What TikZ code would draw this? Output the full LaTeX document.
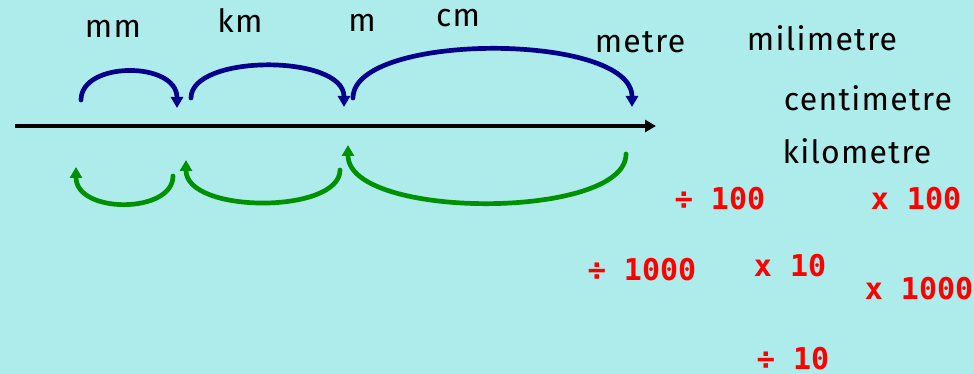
\documentclass[tikz,border=0pt]{standalone}
\usepackage{fontspec}
\setmainfont{Fira Sans}
\newfontfamily\wordfont[LetterSpace=4]{Fira Sans}
\newfontfamily\opfont{DejaVu Sans Mono}
\usepackage{tikz}
\usetikzlibrary{arrows.meta}
\definecolor{bgcyan}{RGB}{174, 236, 236}
\definecolor{arcblue}{RGB}{0, 0, 140}
\definecolor{arcgreen}{RGB}{0, 145, 0}
\definecolor{opred}{RGB}{255, 0, 0}

\begin{document}
\begin{tikzpicture}[x=1pt, y=-1pt,
  every node/.style={inner sep=0pt, anchor=base},
  word/.style={font=\wordfont\fontsize{32}{38}\selectfont},
  oper/.style={font=\opfont\bfseries\fontsize{30}{36}\selectfont, text=opred},
  bluearc/.style={draw=arcblue, line width=4.7pt, line cap=round, -{Triangle[length=11pt, width=12pt]}},
  greenarc/.style={draw=arcgreen, line width=4.7pt, line cap=round, -{Triangle[length=11pt, width=12pt]}}]
\fill[bgcyan] (0,0) rectangle (974,374);
% the line and the jump points
\coordinate (left) at (15,126);
\coordinate (right) at (656,126);
\draw[line width=4.8pt, -{Triangle[length=11pt, width=12pt]}] (left) -- (right);
\coordinate (b1) at (81,100);
\coordinate (b2) at (177,108);
\coordinate (b3) at (191,98);
\coordinate (b4) at (344,107);
\coordinate (b5) at (353,98);
\coordinate (b6) at (632,107);
\coordinate (g1) at (173,176);
\coordinate (g2) at (76,167);
\coordinate (g3) at (340,170);
\coordinate (g4) at (186,160);
\coordinate (g5) at (626,154);
\coordinate (g6) at (348,145);
% blue jumps above
\draw[bluearc] (b1) .. controls (81,61) and (177,61) .. (b2);
\draw[bluearc] (b3) .. controls (191,54) and (344,54) .. (b4);
\draw[bluearc] (b5) .. controls (353,32) and (632,32) .. (b6);
% green jumps below
\draw[greenarc] (g1) .. controls (173,214) and (76,214) .. (g2);
\draw[greenarc] (g3) .. controls (340,214) and (186,214) .. (g4);
\draw[greenarc] (g5) .. controls (626,220) and (348,220) .. (g6);
% words
\node[word] (mm) at (113,38) {mm};
\node[word] (km) at (240,33) {km};
\node[word] (m) at (362,32) {m};
\node[word] (cm) at (458,27) {cm};
\node[word] (metre) at (640,53) {metre};
\node[word] (milli) at (822,51) {milimetre};
\node[word] (centi) at (868,111) {centimetre};
\node[word] (kilo) at (857,164) {kilometre};
% operations
\node[oper] (div100) at (720,210) {÷ 100};
\node[oper] (mul100) at (916,210) {x 100};
\node[oper] (div1000) at (642,280) {÷ 1000};
\node[oper] (mul10) at (790,276) {x 10};
\node[oper] (mul1000) at (919,299) {x 1000};
\node[oper] (div10) at (793,369) {÷ 10};
\end{tikzpicture}
\end{document}
